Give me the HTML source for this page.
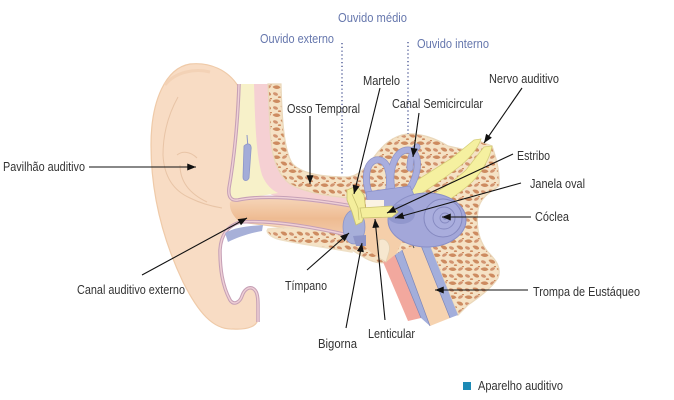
<!DOCTYPE html>
<html><head><meta charset="utf-8"><style>
html,body{margin:0;padding:0;background:#fff;}
svg{display:block;}
text{font-family:"Liberation Sans Narrow","Liberation Sans",sans-serif;font-size:12.5px;fill:#333;}
.b{fill:#6677ad;font-size:13px;}
</style></head><body>
<svg width="674" height="400" viewBox="0 0 674 400" xmlns="http://www.w3.org/2000/svg">
<defs>
<pattern id="bone" width="16" height="14" patternUnits="userSpaceOnUse">
<rect width="16" height="14" fill="#f5e2c5"/>
<path d="M0.5,3 C3,0.5 7,1 8.5,3.5 C6.5,5.5 3,5.5 0.5,3z" fill="#cd8b60"/>
<ellipse cx="12.5" cy="3" rx="2.6" ry="1.5" fill="#d29470" transform="rotate(-25 12.5 3)"/>
<path d="M8.5,8 C11.5,6.5 15.5,8.5 15,11 C12.5,12.5 10,11 8.5,8z" fill="#cd8b60"/>
<ellipse cx="3.5" cy="10" rx="2.6" ry="1.6" fill="#d29470" transform="rotate(20 3.5 10)"/>
<ellipse cx="7.5" cy="13.2" rx="1.6" ry="0.9" fill="#cd8b60"/>
<ellipse cx="15" cy="0.5" rx="1.2" ry="0.8" fill="#cd8b60"/>
</pattern>
<linearGradient id="canal" x1="0" y1="0" x2="0" y2="1">
<stop offset="0" stop-color="#f6d5b8"/><stop offset="0.55" stop-color="#eebb92"/><stop offset="1" stop-color="#f3cba9"/>
</linearGradient>
<marker id="ah" viewBox="0 0 10 8" refX="10" refY="4" markerWidth="10" markerHeight="7" markerUnits="userSpaceOnUse" orient="auto">
<path d="M0,0 L10,4 L0,8 Z" fill="#111"/>
</marker>
</defs>

<!-- pinna + canal -->
<path d="M238,86 C228,70 210,62 190,64 C166,68 151,100 151,145 C151,195 163,240 183,282 C198,312 213,330 233,329 C248,330 258,326 258,318 L258,305 C258,296 257,290 252,288 C248,287 244,290 242,296 C240,302 234,306 230,300 C222,285 220,268 220,250 C221,234 228,226 240,222 L352,236 L352,204 C300,197 260,195 232,201 C233,160 236,120 238,86 Z" fill="#f8dcc4" stroke="#efcaa8" stroke-width="1.2"/>
<!-- pinna folds -->
<path d="M178,97 C168,115 163,135 163,155 C164,175 172,190 190,198 C200,203 210,206 222,208" fill="none" stroke="#e8c4a6" stroke-width="1"/>
<path d="M177,155 C182,151 190,151 197,158 M180,165 C180,178 186,192 207,202" fill="none" stroke="#e8c4a6" stroke-width="1"/>
<path d="M165,85 C175,72 195,68 210,72" fill="none" stroke="#f3d2b6" stroke-width="3"/>

<!-- canal -->
<path d="M230,202 C262,195 300,197 352,205 L352,236 C320,230 280,224 240,222 C232,216 229,208 230,202 Z" fill="url(#canal)"/>

<!-- pink band -->
<path d="M253,84 L270,84 C271,130 274,160 285,175 C296,187 320,193 352,197 L352,207 C320,203 290,200 272,195 C262,191 257,180 256,160 C255,130 254,100 253,84 Z" fill="#f5d0d3"/>
<!-- yellow region -->
<path d="M240,84 L254,84 C255,120 256,155 262,175 C266,185 272,190 278,193 L236,200 C229,198 228,192 229,185 C234,150 238,115 240,84 Z" fill="#f7f1c9"/>
<path d="M247,135 L248,148" stroke="#8c95c8" stroke-width="1"/>
<path d="M244,146 C248,142 252,144 251,150 L249,178 C247,182 243,181 243,177 Z" fill="#a3acd8" stroke="#8c95c8" stroke-width="0.8"/>

<!-- bone main -->
<path d="M268,84 L281,84 C282,120 284,150 292,163 C300,173 320,177 348,177 C358,176 366,168 374,157 C382,146 392,136 407,134 C420,133 435,138 448,146 L466,150 L476,140 L492,146 C497,160 500,175 499,186 C490,192 480,198 478,210 C476,225 478,240 488,252 C496,260 502,268 498,278 C492,288 478,298 468,305 L458,315 L428,241 L395,255 L388,262 C380,264 372,262 365,258 L352,250 L352,198 C320,196 300,190 290,184 C278,175 272,160 270,130 Z" fill="url(#bone)" stroke="#ead8bb" stroke-width="1.2"/>
<!-- bone wedge below canal -->
<path d="M268,229 C290,226 320,230 352,236 L352,252 C330,248 300,244 282,240 C272,238 265,233 268,229 Z" fill="url(#bone)" stroke="#efe0c6" stroke-width="1.5"/>

<!-- canal walls -->
<path d="M239,84 C238,120 234,160 229,188 C228,197 231,201 238,200 C262,195 300,197 352,206" fill="none" stroke="#c6a0b6" stroke-width="3.5"/>
<path d="M239,84 C238,120 234,160 229,188 C228,197 231,201 238,200 C262,195 300,197 352,206" fill="none" stroke="#efd0d6" stroke-width="1.4"/>
<path d="M352,236 C310,226 270,220 240,222 C228,226 221,234 220,250 C220,268 222,285 230,300 C234,306 240,302 242,296 C244,290 248,287 252,288 C257,290 258,296 258,305 L258,322" fill="none" stroke="#c6a0b6" stroke-width="3.5"/>
<path d="M352,236 C310,226 270,220 240,222 C228,226 221,234 220,250 C220,268 222,285 230,300 C234,306 240,302 242,296 C244,290 248,287 252,288 C257,290 258,296 258,305 L258,322" fill="none" stroke="#efd0d6" stroke-width="1.4"/>
<!-- blue blob below canal -->
<path d="M225,233 C235,227 250,226 263,225 L262,231 C250,233 238,237 228,242 Z" fill="#a7b0d8"/>

<!-- eustachian tube -->
<path d="M383,262 L395,255 L421,318 L408,321 Z" fill="#f2a89e"/>
<path d="M395,255 L402,250 L430,326 L421,318 Z" fill="#a3aedb"/>
<path d="M402,250 L420,243 L450,318 L430,326 Z" fill="#f6d3b0"/>
<path d="M420,243 L428,241 L458,315 L450,318 Z" fill="#a3aedb"/>
<path d="M395,255 L421,318 M402,250 L430,326 M420,243 L450,318" stroke="#7d86b8" stroke-width="0.7" fill="none"/>
<path d="M407,232 L414,248" stroke="#555" stroke-width="1"/>

<!-- middle ear cavity -->
<path d="M362,212 L398,214 L404,238 L396,254 L386,262 C378,258 370,252 364,246 Z" fill="#f5cfaa"/>
<path d="M379,240 C386,237 391,244 389,252 L386,262 L379,258 Z" fill="#f6e7cf" stroke="#e2d0b2" stroke-width="0.8"/>

<!-- nerve -->
<path d="M372,206 C395,195 430,172 452,158 L474,140 L481,139 C478,148 470,158 460,166 C440,182 415,198 392,212 Z" fill="#f5f0a0" stroke="#d6cf7a" stroke-width="0.8"/>
<path d="M400,214 C425,200 450,185 466,170 L484,147 L492,146 C490,158 482,172 472,182 C455,198 430,212 410,222 Z" fill="#f5f0a0" stroke="#d6cf7a" stroke-width="0.8"/>

<!-- semicircular canals -->
<path d="M372,200 C364,185 364,163 376,160 C388,158 392,175 388,195 M392,190 C388,170 395,150 408,150 C418,150 420,165 414,180 C410,190 404,196 398,200 M410,168 C410,158 413,150 417,147" fill="none" stroke="#8e94c8" stroke-width="7" stroke-linecap="round"/>
<path d="M372,200 C364,185 364,163 376,160 C388,158 392,175 388,195 M392,190 C388,170 395,150 408,150 C418,150 420,165 414,180 C410,190 404,196 398,200 M410,168 C410,158 413,150 417,147" fill="none" stroke="#a9aede" stroke-width="5.5" stroke-linecap="round"/>
<path d="M366,192 L410,186 L418,204 L394,214 L368,208 Z" fill="#a4a9db" stroke="#8a90c8" stroke-width="0.8"/>

<!-- cochlea -->
<ellipse cx="427" cy="220" rx="39" ry="27" fill="#a3a7d9" stroke="#8a8fc6" stroke-width="1"/>
<ellipse cx="401" cy="214" rx="14" ry="10" fill="#9197cd"/>
<circle cx="443" cy="218" r="19" fill="#a9addd" stroke="#8589c0" stroke-width="1"/>
<circle cx="444" cy="218" r="11" fill="none" stroke="#8589c0" stroke-width="0.9"/>
<circle cx="445" cy="218" r="5" fill="none" stroke="#8589c0" stroke-width="0.9"/>
<circle cx="445" cy="218" r="1.8" fill="#8589c0"/>

<!-- tympanum and ossicles -->
<ellipse cx="354" cy="227" rx="11" ry="17" fill="#a7afd9" stroke="#8d95c8" stroke-width="0.8"/>
<path d="M353,236 L366,235 L366,246 L356,246 Z" fill="#8e95c8"/>
<path d="M366,200 L384,200 L384,210 L366,210 Z" fill="#fbf3e3"/>
<path d="M347,190 L357,186 L364,195 L366,212 L362,222 L356,225 L352,212 L347,200 Z" fill="#f4ee9c" stroke="#c9c170" stroke-width="0.8"/>
<path d="M352,194 L358,208 L359,220" fill="none" stroke="#c9c170" stroke-width="0.8"/>
<path d="M360,208 L392,206 L398,212 L392,217 L362,218 Z" fill="#f4ee9c" stroke="#c9c170" stroke-width="0.8"/>

<!-- dotted lines -->
<line x1="342" y1="43" x2="342" y2="176" stroke="#4e5a96" stroke-width="1.4" stroke-dasharray="1.2 2.6"/>
<line x1="408" y1="42" x2="408" y2="134" stroke="#4e5a96" stroke-width="1.4" stroke-dasharray="1.2 2.6"/>

<!-- arrows -->
<g stroke="#111" stroke-width="1.1" fill="none" marker-end="url(#ah)">
<line x1="89" y1="167" x2="196" y2="167"/>
<line x1="142" y1="275" x2="247" y2="218"/>
<line x1="310" y1="116" x2="310" y2="184"/>
<line x1="380" y1="88" x2="354" y2="194"/>
<line x1="419" y1="113" x2="413" y2="157"/>
<line x1="522" y1="88" x2="484" y2="143"/>
<line x1="513" y1="154" x2="387" y2="213"/>
<line x1="521" y1="183" x2="395" y2="218"/>
<line x1="531" y1="217" x2="442" y2="217"/>
<line x1="307" y1="270" x2="349" y2="233"/>
<line x1="346" y1="328" x2="362" y2="243"/>
<line x1="385" y1="320" x2="375" y2="219"/>
<line x1="528" y1="290" x2="435" y2="290"/>
</g>

<!-- labels -->
<text class="b" x="338" y="22" textLength="69" lengthAdjust="spacingAndGlyphs">Ouvido médio</text>
<text class="b" x="260" y="43" textLength="74" lengthAdjust="spacingAndGlyphs">Ouvido externo</text>
<text class="b" x="417" y="48" textLength="72" lengthAdjust="spacingAndGlyphs">Ouvido interno</text>

<text x="363" y="85" textLength="37" lengthAdjust="spacingAndGlyphs">Martelo</text>
<text x="287" y="113" textLength="73" lengthAdjust="spacingAndGlyphs">Osso Temporal</text>
<text x="392" y="108" textLength="91" lengthAdjust="spacingAndGlyphs">Canal Semicircular</text>
<text x="489" y="83" textLength="70" lengthAdjust="spacingAndGlyphs">Nervo auditivo</text>
<text x="517" y="160" textLength="33" lengthAdjust="spacingAndGlyphs">Estribo</text>
<text x="530" y="188" textLength="55" lengthAdjust="spacingAndGlyphs">Janela oval</text>
<text x="535" y="221" textLength="34" lengthAdjust="spacingAndGlyphs">Cóclea</text>
<text x="3" y="171" textLength="82" lengthAdjust="spacingAndGlyphs">Pavilhão auditivo</text>
<text x="77" y="294" textLength="108" lengthAdjust="spacingAndGlyphs">Canal auditivo externo</text>
<text x="285" y="290" textLength="42" lengthAdjust="spacingAndGlyphs">Tímpano</text>
<text x="533" y="296" textLength="107" lengthAdjust="spacingAndGlyphs">Trompa de Eustáqueo</text>
<text x="318" y="348" textLength="39" lengthAdjust="spacingAndGlyphs">Bigorna</text>
<text x="368" y="338" textLength="47" lengthAdjust="spacingAndGlyphs">Lenticular</text>

<rect x="463" y="382" width="8" height="8" fill="#1d8ab5"/>
<text x="478" y="390" textLength="85" lengthAdjust="spacingAndGlyphs">Aparelho auditivo</text>
</svg>
</body></html>
